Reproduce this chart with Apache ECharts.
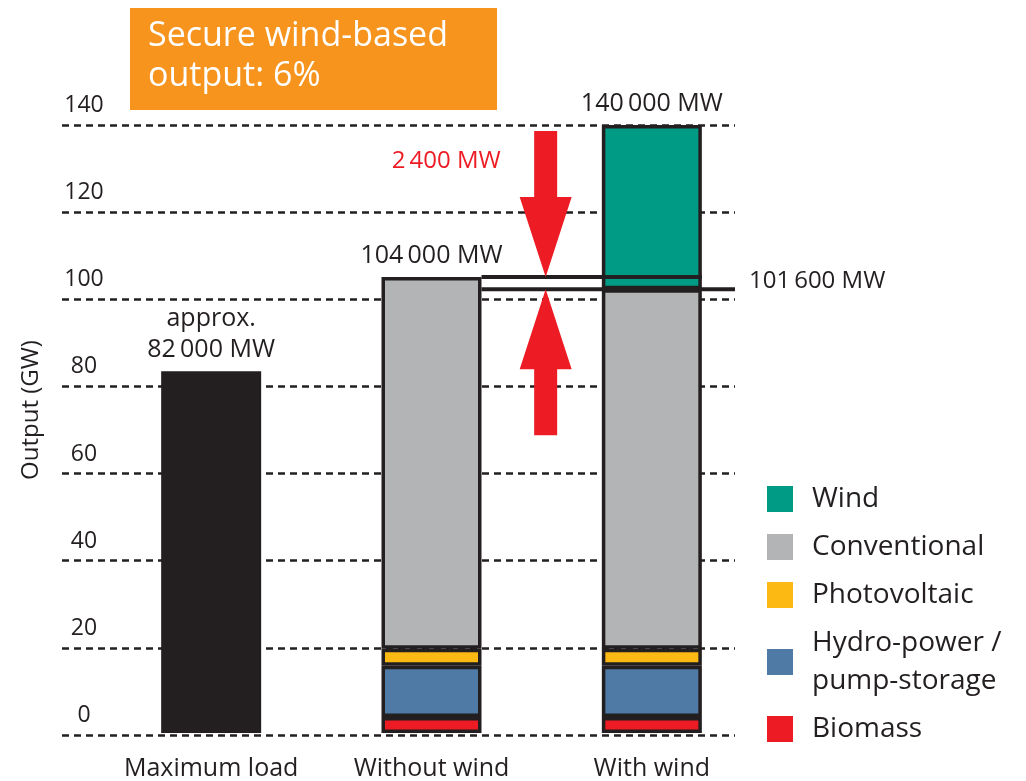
<!DOCTYPE html>
<html>
<head>
<meta charset="utf-8">
<script src="https://cdn.jsdelivr.net/npm/echarts@6/dist/echarts.min.js"></script>
<style>
  html, body { margin: 0; padding: 0; background: #fff; }
  #main { width: 1026px; height: 781px; }
</style>
</head>
<body>
<div id="main"></div>
<script>
// values in GW
const categories = ['Maximum load', 'Without wind', 'With wind'];
const maxLoad = [83.3, '-', '-'];
const biomass = ['-', 3.7, 3.7];
const hydro = ['-', 11.8, 11.8];
const photovoltaic = ['-', 3.9, 3.9];
const conventional = ['-', 85.6, 82.8];
const wind = ['-', '-', 37.8];
const totalLabels = ['approx.\n82\u2009000 MW', '104\u2009000 MW', '140\u2009000 MW'];
const demandLevel = 105;     // 104 000 MW line
const secureLevel = 102.2;   // 101 600 MW line
const gapLabel = '2\u2009400 MW';
const secureLabel = '101\u2009600 MW';

const ink = '#231f20';
const font = 'Open Sans';
const colors = {
  wind: '#009b84',
  conventional: '#b3b4b6',
  photovoltaic: '#fdb913',
  hydro: '#4f7aa5',
  biomass: '#ed1c24'
};

const chart = echarts.init(document.getElementById('main'));

// put the total label on the top segment of each bar
function withTopLabel (values, index) {
  return values.map((v, i) => i === index
    ? { value: v, label: { show: true, position: 'top', distance: 6, formatter: totalLabels[i] } }
    : v);
}

const segStyle = (c) => ({ color: c, borderColor: ink, borderWidth: 3.5 });
const labelStyle = { color: ink, fontFamily: font, fontSize: 25, lineHeight: 31 };

const option = {
  animation: false,
  textStyle: { fontFamily: font },
  grid: [
    { left: 62, right: 291, top: 125, bottom: 46 },
    { left: 101, right: 264, top: 125, bottom: 46 }
  ],
  xAxis: [
    { gridIndex: 0, type: 'category', data: categories, show: false },
    {
      gridIndex: 1, type: 'category', data: categories,
      axisLine: { show: false }, axisTick: { show: false },
      axisLabel: { color: ink, fontFamily: font, fontSize: 25, margin: 23, interval: 0, hideOverlap: false }
    }
  ],
  yAxis: [
    {
      gridIndex: 0, type: 'value', min: 0, max: 140, interval: 20,
      name: 'Output (GW)', nameLocation: 'middle', nameGap: 19,
      nameTextStyle: { color: ink, fontFamily: font, fontSize: 24, padding: [0, 0, 0, 40] },
      axisLine: { show: false }, axisTick: { show: false },
      axisLabel: {
        color: ink, fontFamily: font, fontSize: 23,
        align: 'center', verticalAlign: 'bottom', margin: -22, padding: [0, 0, 8, 0]
      },
      splitLine: { lineStyle: { color: ink, width: 2.5, type: [7, 5] } }
    },
    { gridIndex: 1, type: 'value', min: 0, max: 140, show: false }
  ],
  legend: {
    orient: 'vertical',
    left: 762,
    top: 475,
    itemWidth: 26,
    itemHeight: 26,
    itemGap: 10,
    selectedMode: false,
    icon: 'rect',
    itemStyle: { borderWidth: 0 },
    textStyle: { color: ink, fontFamily: font, fontSize: 28, lineHeight: 38, padding: [0, 0, 0, 14] },
    data: ['Wind', 'Conventional', 'Photovoltaic', 'Hydro-power /\npump-storage', 'Biomass']
  },
  series: [
    {
      name: 'Maximum load', type: 'bar', stack: 'total', xAxisIndex: 1, yAxisIndex: 1,
      barWidth: 100, itemStyle: { color: ink },
      label: labelStyle, data: withTopLabel(maxLoad, 0)
    },
    {
      name: 'Biomass', type: 'bar', stack: 'total', xAxisIndex: 1, yAxisIndex: 1,
      barWidth: 100, itemStyle: segStyle(colors.biomass), data: biomass
    },
    {
      name: 'Hydro-power /\npump-storage', type: 'bar', stack: 'total', xAxisIndex: 1, yAxisIndex: 1,
      barWidth: 100, itemStyle: segStyle(colors.hydro), data: hydro
    },
    {
      name: 'Photovoltaic', type: 'bar', stack: 'total', xAxisIndex: 1, yAxisIndex: 1,
      barWidth: 100, itemStyle: segStyle(colors.photovoltaic), data: photovoltaic
    },
    {
      name: 'Conventional', type: 'bar', stack: 'total', xAxisIndex: 1, yAxisIndex: 1,
      barWidth: 100, itemStyle: segStyle(colors.conventional),
      label: labelStyle, data: withTopLabel(conventional, 1)
    },
    {
      name: 'Wind', type: 'bar', stack: 'total', xAxisIndex: 1, yAxisIndex: 1,
      barWidth: 100, itemStyle: segStyle(colors.wind),
      label: labelStyle, data: withTopLabel(wind, 2)
    }
  ]
};

chart.setOption(option);

// annotation lines + arrows placed through the chart's own scales
const px = (cat, v) => chart.convertToPixel({ gridIndex: 1 }, [cat, v]);
const half = 50;
const pNo = px('Without wind', demandLevel);
const pWith = px('With wind', demandLevel);
const yDemand = pNo[1];
const ySecure = px('With wind', secureLevel)[1];
const yTop = px('With wind', 140)[1];
const plotRight = 1026 - 291;
const ax = (pNo[0] + half + pWith[0] - half) / 2 + 4;
const red = '#ed1c24';

function arrow (tipY, dir) {
  // dir = 1 pointing down, -1 pointing up
  const head = 80, shaft = 66, hw = 26, sw = 11.5;
  const baseY = tipY - dir * head;
  const endY = baseY - dir * shaft;
  return {
    type: 'polygon',
    shape: { points: [
      [ax, tipY], [ax + hw, baseY], [ax + sw, baseY], [ax + sw, endY],
      [ax - sw, endY], [ax - sw, baseY], [ax - hw, baseY]
    ] },
    style: { fill: red },
    z: 10
  };
}

chart.setOption({
  graphic: [
    {
      type: 'rect', left: 130, top: 8, shape: { width: 367, height: 102 },
      style: { fill: '#f7941d' }, z: 5
    },
    {
      type: 'text', left: 148, top: 16, z: 6,
      style: { text: 'Secure wind-based\noutput: 6%', fill: '#fff', font: '34px "Open Sans"', lineHeight: 40 }
    },
    {
      type: 'line', shape: { x1: pNo[0] + half, y1: yDemand, x2: pWith[0] + half, y2: yDemand },
      style: { stroke: ink, lineWidth: 4 }, z: 9
    },
    {
      type: 'line', shape: { x1: pNo[0] + half, y1: ySecure, x2: plotRight, y2: ySecure },
      style: { stroke: ink, lineWidth: 4 }, z: 9
    },
    arrow(yDemand, 1),
    arrow(ySecure, -1),
    {
      type: 'text', x: ax - 45, y: yTop + 36, z: 10,
      style: { text: gapLabel, fill: red, font: '24px "Open Sans"', align: 'right', verticalAlign: 'middle' }
    },
    {
      type: 'text', x: plotRight + 14, y: ySecure - 8, z: 10,
      style: { text: secureLabel, fill: ink, font: '24px "Open Sans"', align: 'left', verticalAlign: 'middle' }
    }
  ]
});
</script>
</body>
</html>
